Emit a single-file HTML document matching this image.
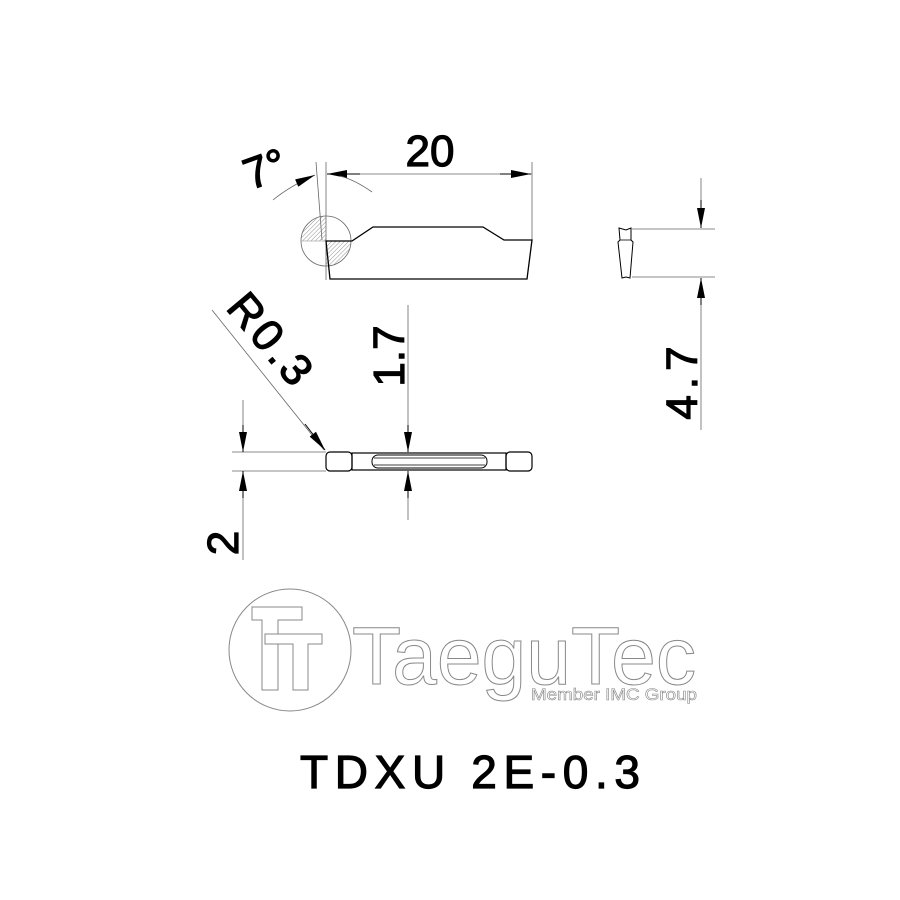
<!DOCTYPE html>
<html><head><style>body{margin:0;background:#fff}svg{display:block}text{font-family:"Liberation Sans",sans-serif}</style></head>
<body>
<svg width="900" height="900" viewBox="0 0 900 900" xmlns="http://www.w3.org/2000/svg">
<defs>
<marker id="a" viewBox="0 0 10 4" refX="10" refY="2" markerWidth="22" markerHeight="8" markerUnits="userSpaceOnUse" orient="auto"><path d="M0 0L10 2L0 4Z" fill="#000"/></marker>
<pattern id="h" width="3" height="3" patternUnits="userSpaceOnUse" patternTransform="rotate(45)"><line x1="0" y1="0" x2="0" y2="3" stroke="#777" stroke-width="0.8"/></pattern>
</defs>
<g stroke="#000" fill="none">
<!-- top view -->
<path d="M326 162V280M532 162V240M316 162L322 240" stroke="#666" stroke-width="0.8"/>
<path d="M301 241a25 25 0 0 1 25 -25V241Z" fill="url(#h)" stroke="none"/>
<path d="M326 241H351a25 25 0 0 1 -25 25Z" fill="url(#h)" stroke="none"/>
<circle cx="326" cy="241" r="25" stroke="#666" stroke-width="0.8"/>
<path d="M301 241H326" stroke="#aaa" stroke-width="0.8"/>
<path d="M326 241H352L373 227H483L504 240H532L527 279H330Z" stroke-width="1.3"/>
<line x1="340" y1="174" x2="532" y2="174" stroke="#666" stroke-width="0.8"/>
<line x1="360" y1="174" x2="327" y2="174" stroke="#000" marker-end="url(#a)"/>
<line x1="500" y1="174" x2="531" y2="174" stroke="#000" marker-end="url(#a)"/>
<path d="M273 200Q290 186 315 175" stroke="#666" stroke-width="0.8" marker-end="url(#a)"/>
<path d="M372 192Q355 180 340 176" stroke="#666" stroke-width="0.8"/>
<!-- side view -->
<path d="M632 229H715M632 277H715M701 178V228M701 278V430" stroke="#666" stroke-width="0.8"/>
<line x1="701" y1="200" x2="701" y2="228" marker-end="url(#a)"/>
<line x1="701" y1="305" x2="701" y2="278" marker-end="url(#a)"/>
<path d="M619 228L626 230L631 228V240L633 242L630 278L626 277L622 278L618 242L620 240Z" stroke-width="1"/>
<path d="M620 240H631" stroke-width="0.8"/>
<!-- bottom view -->
<path d="M232 452H326M232 471H326M243 400V452M243 471V560M408 305V452M408 471V520M212 310L324 450" stroke="#666" stroke-width="0.8"/>
<line x1="243" y1="425" x2="243" y2="452" marker-end="url(#a)"/>
<line x1="243" y1="498" x2="243" y2="471" marker-end="url(#a)"/>
<line x1="408" y1="425" x2="408" y2="452" marker-end="url(#a)"/>
<line x1="408" y1="498" x2="408" y2="471" marker-end="url(#a)"/>
<line x1="305" y1="424" x2="325" y2="450" marker-end="url(#a)"/>
<rect x="326" y="452" width="26" height="19" rx="4" stroke-width="1.2"/>
<rect x="506" y="452" width="26" height="19" rx="4" stroke-width="1.2"/>
<rect x="352" y="453" width="154" height="17" stroke-width="1.2"/>
<rect x="372" y="455" width="115" height="13" rx="6" stroke-width="1"/>
<path d="M374 458H485M374 465H485" stroke-width="0.8"/>
</g>
<g fill="#000" stroke="#000" stroke-width="1.2">
<text x="430" y="166" font-size="44" text-anchor="middle">20</text>
<text transform="translate(270,183) rotate(-20)" font-size="44" text-anchor="middle">7°</text>
<text transform="translate(404,356) rotate(-90)" font-size="44" text-anchor="middle">1.7</text>
<text transform="translate(697,380) rotate(-90)" font-size="44" text-anchor="middle" letter-spacing="6">4.7</text>
<text transform="translate(238,543) rotate(-90)" font-size="44" text-anchor="middle">2</text>
<text transform="translate(260,350) rotate(50)" font-size="44" text-anchor="middle" letter-spacing="4">R0.3</text>
<text x="470" y="788" font-size="46" text-anchor="middle" textLength="340" lengthAdjust="spacing">TDXU 2E-0.3</text>
</g>
<g fill="#fff" stroke="#888" stroke-width="1">
<circle cx="290" cy="650" r="61"/>
<path d="M252 607H302V620H278V690H262V620H252Z"/>
<path d="M265 634H322V644H308V690H293V644H265Z"/>
<text x="352" y="684" font-size="82" textLength="344" lengthAdjust="spacingAndGlyphs">TaeguTec</text>
<text x="531" y="700" font-size="17" stroke-width="0.6" textLength="166" lengthAdjust="spacingAndGlyphs">Member IMC Group</text>
</g>
</svg>
</body></html>
